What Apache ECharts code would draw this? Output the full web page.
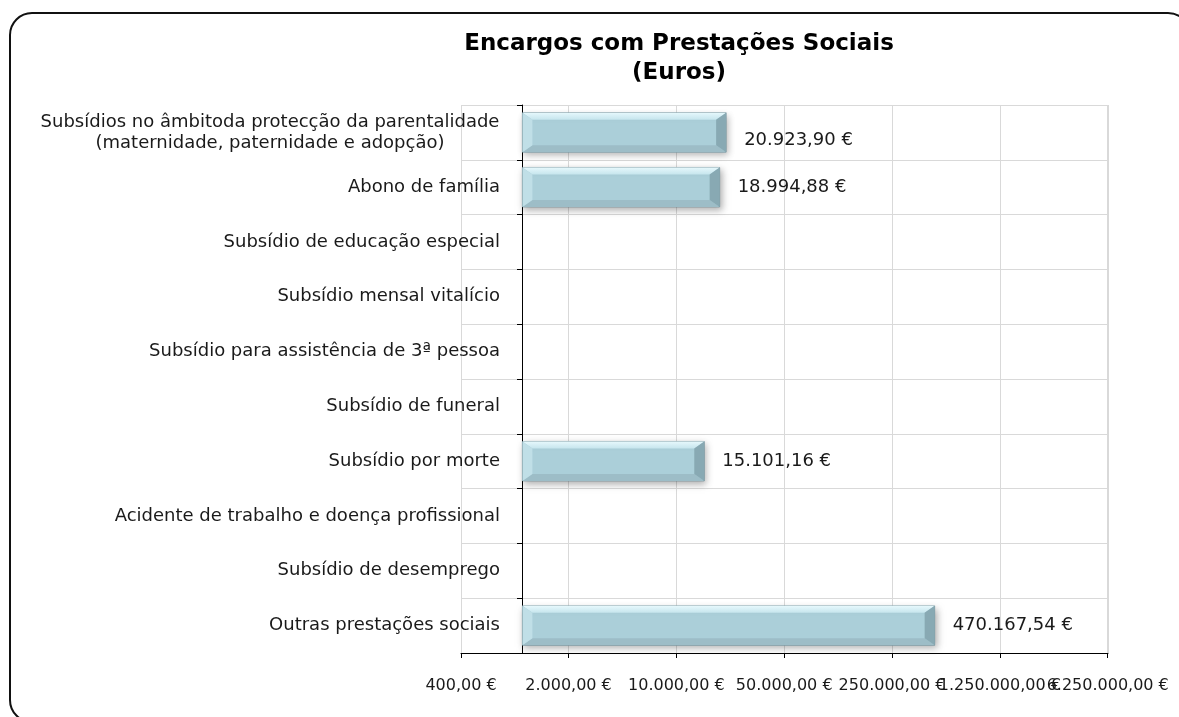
<!DOCTYPE html>
<html>
<head>
<meta charset="utf-8">
<title>Encargos com Prestações Sociais</title>
<script src="https://cdn.jsdelivr.net/npm/echarts@6/dist/echarts.min.js"></script>
<style>
  html, body { margin: 0; padding: 0; background: #fff; }
  #chart { width: 1179px; height: 717px; }
</style>
</head>
<body>
<div id="chart"></div>
<script>
// categorias (de cima para baixo)
var categories = [
  'Subsídios no âmbitoda protecção da parentalidade\n(maternidade, paternidade e adopção)',
  'Abono de família',
  'Subsídio de educação especial',
  'Subsídio mensal vitalício',
  'Subsídio para assistência de 3ª pessoa',
  'Subsídio de funeral',
  'Subsídio por morte',
  'Acidente de trabalho e doença profissional',
  'Subsídio de desemprego',
  'Outras prestações sociais'
];
// valores em euros (null = sem valor)
var values = [20923.90, 18994.88, null, null, null, null, 15101.16, null, null, 470167.54];
// eixo logaritmico base 5
var axisMin = 400;
var axisMax = 6250000;
var axisBase = 5;
var axisCross = 1000; // onde o eixo vertical cruza

function euro(v) {
  var parts = Number(v).toFixed(2).split('.');
  var inteiro = parts[0].replace(/\B(?=(\d{3})+(?!\d))/g, '.');
  return inteiro + ',' + parts[1] + ' €';
}

// o eixo log arredonda o expoente, por isso acertamos a etiqueta ao passo exacto
function tickLabel(v) {
  var k = Math.round(Math.log(v / axisMin) / Math.log(axisBase));
  return euro(axisMin * Math.pow(axisBase, k));
}

var barData = [];
values.forEach(function (v, i) {
  if (v != null) barData.push([v, i]);
});

var FONT = 'DejaVu Sans';
var TEXT = '#1a1a1a';

function renderBar(params, api) {
  var v = api.value(0);
  var idx = api.value(1);
  var start = api.coord([axisCross, idx]);
  var end = api.coord([v, idx]);
  var band = api.size([0, 1], [v, idx])[1];
  var h = band * 0.72;
  var x0 = start[0], x1 = end[0];
  var y0 = start[1] - h / 2, y1 = start[1] + h / 2;
  var bx = 10, by = 7;
  var dy = idx === 0 ? 8 : 0;
  return {
    type: 'group',
    children: [
      {
        type: 'rect',
        shape: { x: x0, y: y0, width: x1 - x0, height: h },
        style: {
          fill: '#abcfd9',
          stroke: 'rgba(90,120,130,0.6)',
          lineWidth: 1,
          shadowBlur: 7,
          shadowOffsetX: 2,
          shadowOffsetY: 3,
          shadowColor: 'rgba(0,0,0,0.3)'
        }
      },
      {
        type: 'polygon',
        shape: { points: [[x0, y0], [x1, y0], [x1 - bx, y0 + by], [x0 + bx, y0 + by]] },
        style: {
          fill: new echarts.graphic.LinearGradient(0, 0, 0, 1, [
            { offset: 0, color: '#e6f8fc' },
            { offset: 1, color: '#c6e5ed' }
          ])
        }
      },
      {
        type: 'polygon',
        shape: { points: [[x0, y1], [x1, y1], [x1 - bx, y1 - by], [x0 + bx, y1 - by]] },
        style: { fill: '#9dbdc7' }
      },
      {
        type: 'polygon',
        shape: { points: [[x0, y0], [x0 + bx, y0 + by], [x0 + bx, y1 - by], [x0, y1]] },
        style: { fill: '#c0dfe7' }
      },
      {
        type: 'polygon',
        shape: { points: [[x1, y0], [x1 - bx, y0 + by], [x1 - bx, y1 - by], [x1, y1]] },
        style: { fill: '#88a9b3' }
      },
      {
        type: 'text',
        style: {
          x: x1 + 18,
          y: start[1] + dy,
          text: euro(v),
          fill: TEXT,
          font: '18px "' + FONT + '"',
          verticalAlign: 'middle',
          align: 'left'
        }
      }
    ]
  };
}

var chart = echarts.init(document.getElementById('chart'));
chart.setOption({
  animation: false,
  backgroundColor: '#fff',
  title: {
    text: 'Encargos com Prestações Sociais\n(Euros)',
    left: 679,
    top: 30,
    padding: 0,
    textAlign: 'center',
    textStyle: {
      fontFamily: FONT,
      fontWeight: 'bold',
      fontSize: 23,
      lineHeight: 29,
      color: '#000'
    }
  },
  graphic: [{
    type: 'rect',
    shape: { x: 10, y: 13, width: 1180, height: 709, r: 22 },
    style: { fill: null, stroke: '#111', lineWidth: 2 },
    silent: true
  }],
  grid: { left: 461, right: 71, top: 105, bottom: 64, containLabel: false },
  xAxis: {
    type: 'log',
    logBase: axisBase,
    min: axisMin,
    max: axisMax,
    interval: 1,
    axisLine: { show: true, lineStyle: { color: '#000', width: 1 } },
    axisTick: { show: true, length: 5, lineStyle: { color: '#000' } },
    splitLine: { show: true, lineStyle: { color: '#d9d9d9', width: 1 } },
    minorTick: { show: false },
    axisLabel: {
      formatter: tickLabel,
      fontFamily: FONT,
      fontSize: 16,
      color: TEXT,
      margin: 25,
      hideOverlap: false
    }
  },
  yAxis: {
    type: 'category',
    inverse: true,
    data: categories,
    offset: -61,
    axisLine: { show: true, lineStyle: { color: '#000', width: 1 } },
    axisTick: { show: true, length: 5, lineStyle: { color: '#000' } },
    splitLine: { show: true, lineStyle: { color: '#d9d9d9', width: 1 } },
    axisLabel: {
      interval: 0,
      margin: 22,
      fontFamily: FONT,
      fontSize: 18,
      color: TEXT,
      lineHeight: 21,
      formatter: function (val) {
        var lines = val.split('\n');
        if (lines.length === 1) return val;
        return lines.map(function (l) { return '{c|' + l + '}'; }).join('\n');
      },
      rich: {
        c: { width: 460, align: 'center', fontFamily: FONT, fontSize: 18, lineHeight: 21, color: TEXT }
      }
    }
  },
  series: [{
    type: 'custom',
    name: 'Encargos',
    data: barData,
    encode: { x: 0, y: 1 },
    renderItem: renderBar,
    clip: false
  }]
});
</script>
</body>
</html>
